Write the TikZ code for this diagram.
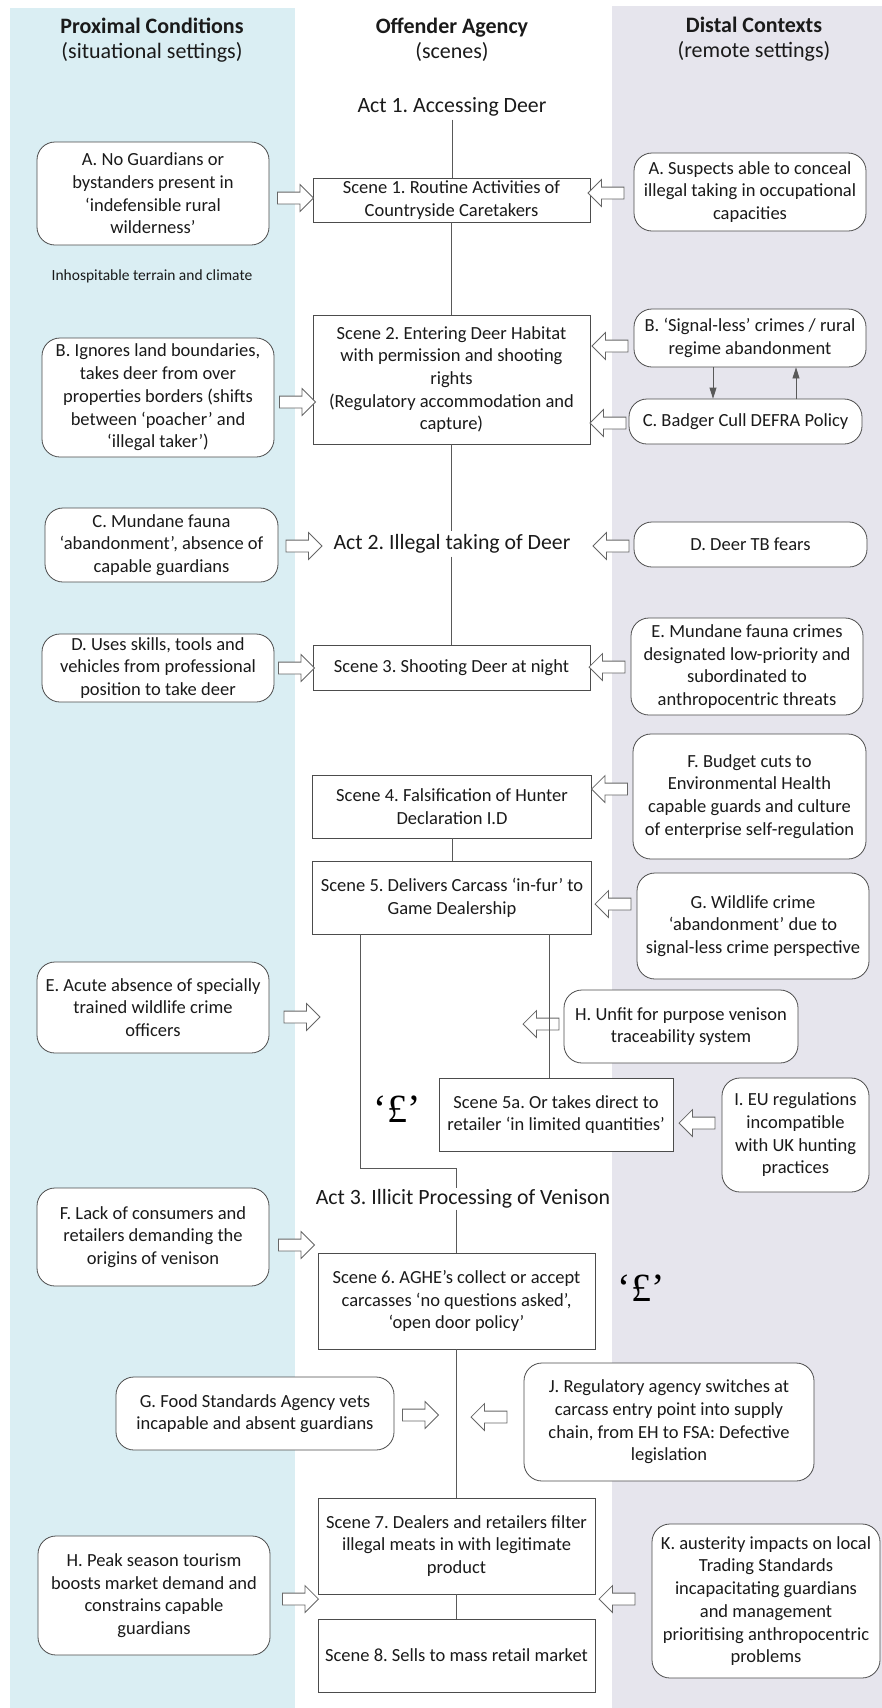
\documentclass[tikz,border=0pt]{standalone}
\usepackage{fontspec}
\setmainfont{Carlito}
\newfontfamily\poundfont{Liberation Serif}
\usetikzlibrary{shapes.arrows,arrows.meta}
\frenchspacing

\definecolor{proxblue}{HTML}{DAEEF3}
\definecolor{distgrey}{HTML}{E6E5ED}
\definecolor{inkgrey}{HTML}{1A1A1A}

\newcommand{\boxfont}{\fontsize{18.5}{22.7}\selectfont}
\newcommand{\actfont}{\fontsize{21.8}{26}\selectfont}
\newcommand{\headfont}{\fontsize{22}{25}\selectfont}

\begin{document}
\begin{tikzpicture}[x=1pt, y=-1pt, >={Triangle[length=11pt,width=7pt]},
    scenebox/.style={draw=black!70, line width=0.8pt, fill=white, align=center,
        font=\boxfont, text=inkgrey, inner sep=2pt},
    condbox/.style={scenebox, rounded corners=18pt},
    actlabel/.style={font=\actfont, text=inkgrey, inner sep=3pt},
    pushright/.style={single arrow, draw=black!60, line width=0.8pt, fill=white,
        minimum height=36pt, inner xsep=0pt, inner ysep=5.5pt, single arrow head extend=7.5pt},
    pushleft/.style={pushright, shape border rotate=180},
    link/.style={draw=black!65, line width=0.8pt},
    pound/.style={font=\poundfont\fontsize{40}{40}\selectfont, text=black, inner sep=0pt}]

    \useasboundingbox (0,0) rectangle (882,1708);

    % --- BANDS ---
    \fill[proxblue] (10,8) rectangle (295,1708);
    \fill[distgrey] (612,6) rectangle (882,1708);

    % --- HEADERS ---
    \node[font=\headfont, align=center, text=inkgrey] (hprox) at (152,40) {\textbf{Proximal Conditions}\\(situational settings)};
    \node[font=\headfont, align=center, text=inkgrey] (hoff) at (452,40) {\textbf{Offender Agency}\\(scenes)};
    \node[font=\headfont, align=center, text=inkgrey] (hdist) at (754,39) {\textbf{Distal Contexts}\\(remote settings)};

    % --- ACT 1 ---
    \node[actlabel] (act1) at (452,107) {Act 1. Accessing Deer};

    % Scene 1
    \node[scenebox, minimum width=277pt, minimum height=44pt] (s1) at (451.5,200) {Scene 1. Routine Activities of\\Countryside Caretakers};
    \node[condbox, minimum width=232pt, minimum height=103pt] (pA) at (153,193.5) {A. No Guardians or\\bystanders present in\\‘indefensible rural\\wilderness’};
    \node[condbox, minimum width=232pt, minimum height=78pt] (dA) at (750,192) {A. Suspects able to conceal\\illegal taking in occupational\\capacities};
    \node[pushright] (pushpA) at (292.5,198) {};
    \node[pushleft] (pushdA) at (609,193) {};
    \node[font=\fontsize{15.5}{18}\selectfont, text=inkgrey] (terrain) at (152,276) {Inhospitable terrain and climate};

    % Scene 2
    \node[scenebox, minimum width=277pt, minimum height=129pt] (s2) at (451.5,379.5) {Scene 2. Entering Deer Habitat\\with permission and shooting\\rights\\(Regulatory accommodation and\\capture)};
    \node[condbox, minimum width=232pt, minimum height=119pt] (pB) at (158,397.5) {B. Ignores land boundaries,\\takes deer from over\\properties borders (shifts\\between ‘poacher’ and\\‘illegal taker’)};
    \node[condbox, minimum width=232pt, minimum height=58pt] (dB) at (750,338) {B. ‘Signal-less’ crimes / rural\\regime abandonment};
    \node[condbox, minimum width=233pt, minimum height=45pt] (dC) at (745.5,421.5) {C. Badger Cull DEFRA Policy};
    \node[pushright] (pushpB) at (294.5,402) {};
    \node[pushleft] (pushdB) at (613,346) {};
    \node[pushleft] (pushdC) at (611,423) {};

    % --- ACT 2 ---
    \node[actlabel] (act2) at (452,544) {Act 2. Illegal taking of Deer};
    \node[condbox, minimum width=233pt, minimum height=74pt] (pC) at (161.5,545) {C. Mundane fauna\\‘abandonment’, absence of\\capable guardians};
    \node[condbox, minimum width=233pt, minimum height=45pt] (dD) at (750.5,544.5) {D. Deer TB fears};
    \node[pushright] (pushpC) at (301,546) {};
    \node[pushleft] (pushdD) at (614,546) {};

    % Scene 3
    \node[scenebox, minimum width=277pt, minimum height=45pt] (s3) at (451.5,667.5) {Scene 3. Shooting Deer at night};
    \node[condbox, minimum width=232pt, minimum height=68pt] (pD) at (158,668) {D. Uses skills, tools and\\vehicles from professional\\position to take deer};
    \node[condbox, minimum width=232pt, minimum height=97pt] (dE) at (747,666.5) {E. Mundane fauna crimes\\designated low-priority and\\subordinated to\\anthropocentric threats};
    \node[pushright] (pushpD) at (293.5,668) {};
    \node[pushleft] (pushdE) at (610,667) {};

    % Scene 4
    \node[scenebox, minimum width=279pt, minimum height=63pt] (s4) at (452,806.5) {Scene 4. Falsification of Hunter\\Declaration I.D};
    \node[condbox, minimum width=233pt, minimum height=125pt] (dF) at (749.5,796.5) {F. Budget cuts to\\Environmental Health\\capable guards and culture\\of enterprise self-regulation};
    \node[pushleft] (pushdF) at (612.5,789) {};

    % Scene 5
    \node[scenebox, minimum width=279pt, minimum height=73pt] (s5) at (452,897.5) {Scene 5. Delivers Carcass ‘in-fur’ to\\Game Dealership};
    \node[condbox, minimum width=232pt, minimum height=106pt] (dG) at (753,926) {G. Wildlife crime\\‘abandonment’ due to\\signal-less crime perspective};
    \node[pushleft] (pushdG) at (616,904) {};
    \node[condbox, minimum width=232pt, minimum height=91pt] (pE) at (153,1007.5) {E. Acute absence of specially\\trained wildlife crime\\officers};
    \node[pushright] (pushpE) at (299,1017) {};
    \node[condbox, minimum width=234pt, minimum height=73pt] (dH) at (681,1026.5) {H. Unfit for purpose venison\\traceability system};
    \node[pushleft] (pushdH) at (544,1024) {};

    % Scene 5a
    \node[scenebox, minimum width=234pt, minimum height=73pt] (s5a) at (556,1114.5) {Scene 5a. Or takes direct to\\retailer ‘in limited quantities’};
    \node[condbox, minimum width=147pt, minimum height=114pt] (dI) at (795.5,1135) {I. EU regulations\\incompatible\\with UK hunting\\practices};
    \node[pushleft] (pushdI) at (700,1123) {};
    \node[pound] (cash1) at (397,1109) {‘£’};

    % --- ACT 3 ---
    \node[actlabel, inner sep=1pt] (act3) at (463,1199) {Act 3. Illicit Processing of Venison};
    \node[condbox, minimum width=232pt, minimum height=98pt] (pF) at (153,1237) {F. Lack of consumers and\\retailers demanding the\\origins of venison};
    \node[pushright] (pushpF) at (293.5,1245) {};

    % Scene 6
    \node[scenebox, minimum width=277pt, minimum height=96pt] (s6) at (456.5,1301) {Scene 6. AGHE’s collect or accept\\carcasses ‘no questions asked’,\\‘open door policy’};
    \node[pound] (cash2) at (641,1288) {‘£’};
    \node[condbox, minimum width=278pt, minimum height=73pt] (pG) at (255,1413.5) {G. Food Standards Agency vets\\incapable and absent guardians};
    \node[condbox, minimum width=290pt, minimum height=118pt] (dJ) at (669,1422) {J. Regulatory agency switches at\\carcass entry point into supply\\chain, from EH to FSA: Defective\\legislation};
    \node[pushright] (pushpG) at (417.5,1415) {};
    \node[pushleft] (pushdJ) at (492,1417) {};

    % Scene 7 and 8
    \node[scenebox, minimum width=277pt, minimum height=96pt] (s7) at (456.5,1546) {Scene 7. Dealers and retailers filter\\illegal meats in with legitimate\\product};
    \node[scenebox, minimum width=277pt, minimum height=73pt] (s8) at (456.5,1655.5) {Scene 8. Sells to mass retail market};
    \node[condbox, minimum width=232pt, minimum height=119pt] (pH) at (154,1595.5) {H. Peak season tourism\\boosts market demand and\\constrains capable\\guardians};
    \node[condbox, minimum width=228pt, minimum height=154pt] (dK) at (766,1601) {K. austerity impacts on local\\Trading Standards\\incapacitating guardians\\and management\\prioritising anthropocentric\\problems};
    \node[pushright] (pushpH) at (297.5,1599) {};
    \node[pushleft] (pushdK) at (620,1599) {};

    % --- SCENE LINKS ---
    \draw[link] (act1.south) -- (act1.south |- s1.north);
    \draw[link] (s1.south) -- (s2.north);
    \draw[link] (s2.south) -- (s2.south |- act2.north);
    \draw[link] (s2.south |- act2.south) -- (s3.north);
    \draw[link] (s4.south) -- (s5.north);
    \coordinate (bendL) at (360,1168);
    \coordinate (dropR) at (549,0);
    \draw[link] (s5.south -| bendL) -- (bendL) -| (act3.north -| s6.north);
    \draw[link] (s5.south -| dropR) -- (s5a.north -| dropR);
    \draw[link] (act3.south -| s6.north) -- (s6.north);
    \draw[link] (s6.south) -- (s7.north);
    \draw[link] (s7.south) -- (s8.north);

    % B <-> C
    \coordinate (bcDown) at (713,0);
    \coordinate (bcUp) at (796,0);
    \draw[link, ->] (dB.south -| bcDown) -- (dC.north -| bcDown);
    \draw[link, ->] (dC.north -| bcUp) -- (dB.south -| bcUp);

\end{tikzpicture}
\end{document}
